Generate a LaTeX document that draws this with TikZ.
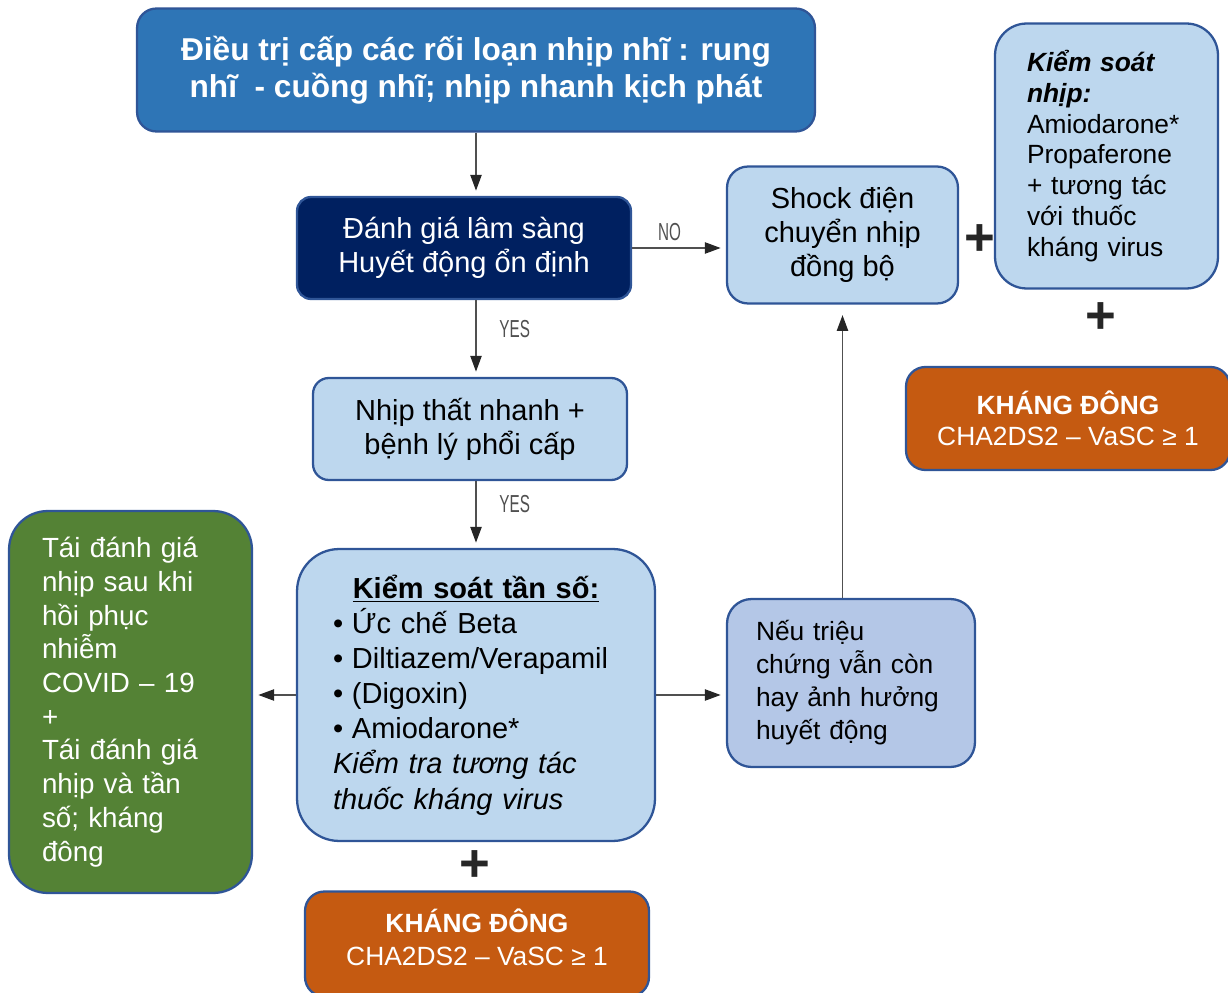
\documentclass[tikz,border=0pt]{standalone}
\usepackage{fontspec}
\setmainfont{Liberation Sans}
\newfontfamily\yesnofont{Liberation Sans}[FakeStretch=0.62]
\usetikzlibrary{arrows.meta, positioning}

\definecolor{titleblue}{HTML}{2E75B6}
\definecolor{edgeblue}{HTML}{2F5597}
\definecolor{navyblue}{HTML}{002060}
\definecolor{paleblue}{HTML}{BDD7EE}
\definecolor{noteblue}{HTML}{B4C7E7}
\definecolor{leafgreen}{HTML}{548235}
\definecolor{rustorange}{HTML}{C55A11}
\definecolor{arrowgray}{HTML}{505050}

\begin{document}
\begin{tikzpicture}[x=0.02cm, y=-0.02cm,
    >={Triangle[length=9pt, width=6.5pt, color=black!85]},
    box/.style={draw=edgeblue, line width=1.3pt, rounded corners=8pt,
                align=center, inner sep=0pt},
    titlebox/.style={box, fill=titleblue, text=white, rounded corners=11pt,
                     font=\bfseries\fontsize{18}{21}\selectfont},
    darkbox/.style ={box, fill=navyblue, text=white,
                     font=\fontsize{16.5}{19.5}\selectfont},
    lightbox/.style={box, fill=paleblue, text=black, rounded corners=12pt,
                     font=\fontsize{16.5}{19.5}\selectfont},
    greenbox/.style={box, fill=leafgreen, text=white, align=left,
                     rounded corners=22pt,
                     font=\fontsize{15.8}{19.2}\selectfont},
    orangebox/.style={box, fill=rustorange, text=white,
                      rounded corners=11pt,
                      font=\fontsize{15}{19}\selectfont},
    notebox/.style ={box, fill=noteblue, text=black, align=left,
                     rounded corners=14pt,
                     font=\fontsize{15}{18.8}\selectfont},
    link/.style    ={->, draw=arrowgray, line width=0.7pt, shorten >=3pt},
    yesno/.style   ={text=arrowgray, inner sep=1pt,
                     font=\yesnofont\fontsize{14}{14}\selectfont},
    plussign/.style={text=black!85, inner sep=0pt,
                     font=\bfseries\fontsize{30}{30}\selectfont}
  ]
  \useasboundingbox (0,0) rectangle (1228,993);

  % Main column
  \node[titlebox, minimum width=13.56cm, minimum height=2.46cm] (title) at (476,70)
    {Điều trị cấp các rối loạn nhịp nhĩ : rung\\ nhĩ ~- cuồng nhĩ; nhịp nhanh kịch phát};
  \node[darkbox, minimum width=6.68cm, minimum height=2.04cm] (clinic) at (464,248)
    {Đánh giá lâm sàng\\ Huyết động ổn định};
  \node[lightbox, rounded corners=9pt, minimum width=6.28cm, minimum height=2.04cm] (vent) at (470,429)
    {Nhịp thất nhanh +\\ bệnh lý phổi cấp};
  \node[lightbox, align=left, rounded corners=24pt, text width=5.72cm, inner xsep=0.72cm,
        minimum height=5.84cm, font=\fontsize{16.5}{20}\selectfont] (rate) at (476,695)
    {\makebox[\linewidth][c]{\bfseries\underline{Kiểm soát tần số:}}\\
     •\hspace{5pt}Ức chế Beta\\
     •\hspace{5pt}Diltiazem/Verapamil\\
     •\hspace{5pt}(Digoxin)\\
     •\hspace{5pt}Amiodarone*\\
     {\itshape Kiểm tra tương tác\\ thuốc kháng virus}};
  \node[orangebox, minimum width=6.88cm, minimum height=2.1cm, text depth=7.5pt] (anticoag) at (477,944)
    {\bfseries KHÁNG ĐÔNG\\ CHA2DS2 – VaSC ≥ 1};
  \node[plussign] (plusrate) at (475,866) {+};

  % Left branch
  \node[greenbox, text width=3.54cm, inner xsep=0.66cm, minimum height=7.64cm] (reassess) at (130.5,702)
    {Tái đánh giá\\ nhịp sau khi\\ hồi phục\\ nhiễm\\ COVID – 19\\ +\\ Tái đánh giá\\ nhịp và tần\\ số; kháng\\ đông};

  % Right branch
  \node[lightbox, minimum width=4.62cm, minimum height=2.74cm] (shock) at (842.5,235)
    {Shock điện\\ chuyển nhịp\\ đồng bộ};
  \node[lightbox, align=left, rounded corners=18pt, text width=3.18cm, inner xsep=0.64cm,
        minimum height=5.3cm, font=\fontsize{15}{17.5}\selectfont] (rhythm) at (1106.5,156)
    {{\bfseries\itshape Kiểm soát\\ nhịp:}\\ Amiodarone*\\ Propaferone\\ + tương tác\\ với thuốc\\ kháng virus};
  \node[plussign] (plusshock) at (980,240) {+};
  \node[plussign] (plusrhythm) at (1101,318) {+};
  \node[orangebox, minimum width=6.48cm, minimum height=2.06cm,
        font=\fontsize{15}{17.5}\selectfont] (anticoagR) at (1068,418.5)
    {\bfseries KHÁNG ĐÔNG\\ CHA2DS2 – VaSC ≥ 1};
  \node[notebox, text width=3.8cm, inner xsep=0.58cm, minimum height=3.36cm] (persist) at (851,683)
    {Nếu triệu\\ chứng vẫn còn\\ hay ảnh hưởng\\ huyết động};

  % Connectors
  \draw[link] (title.south) -- (title.south |- clinic.north);
  \draw[link] (clinic.east) -- node[yesno, pos=0.4, above=3pt] {NO} (clinic.east -| shock.west);
  \draw[link] (title.south |- clinic.south) -- node[yesno, pos=0.38, right=12pt] {YES} (title.south |- vent.north);
  \draw[link] (title.south |- vent.south) -- node[yesno, pos=0.35, right=12pt] {YES} (title.south |- rate.north);
  \draw[link] (rate.west) -- (rate.west -| reassess.east);
  \draw[link] (rate.east) -- (rate.east -| persist.west);
  \draw[link, shorten >=6pt] (shock.south |- persist.north) -- (shock.south);
\end{tikzpicture}
\end{document}
